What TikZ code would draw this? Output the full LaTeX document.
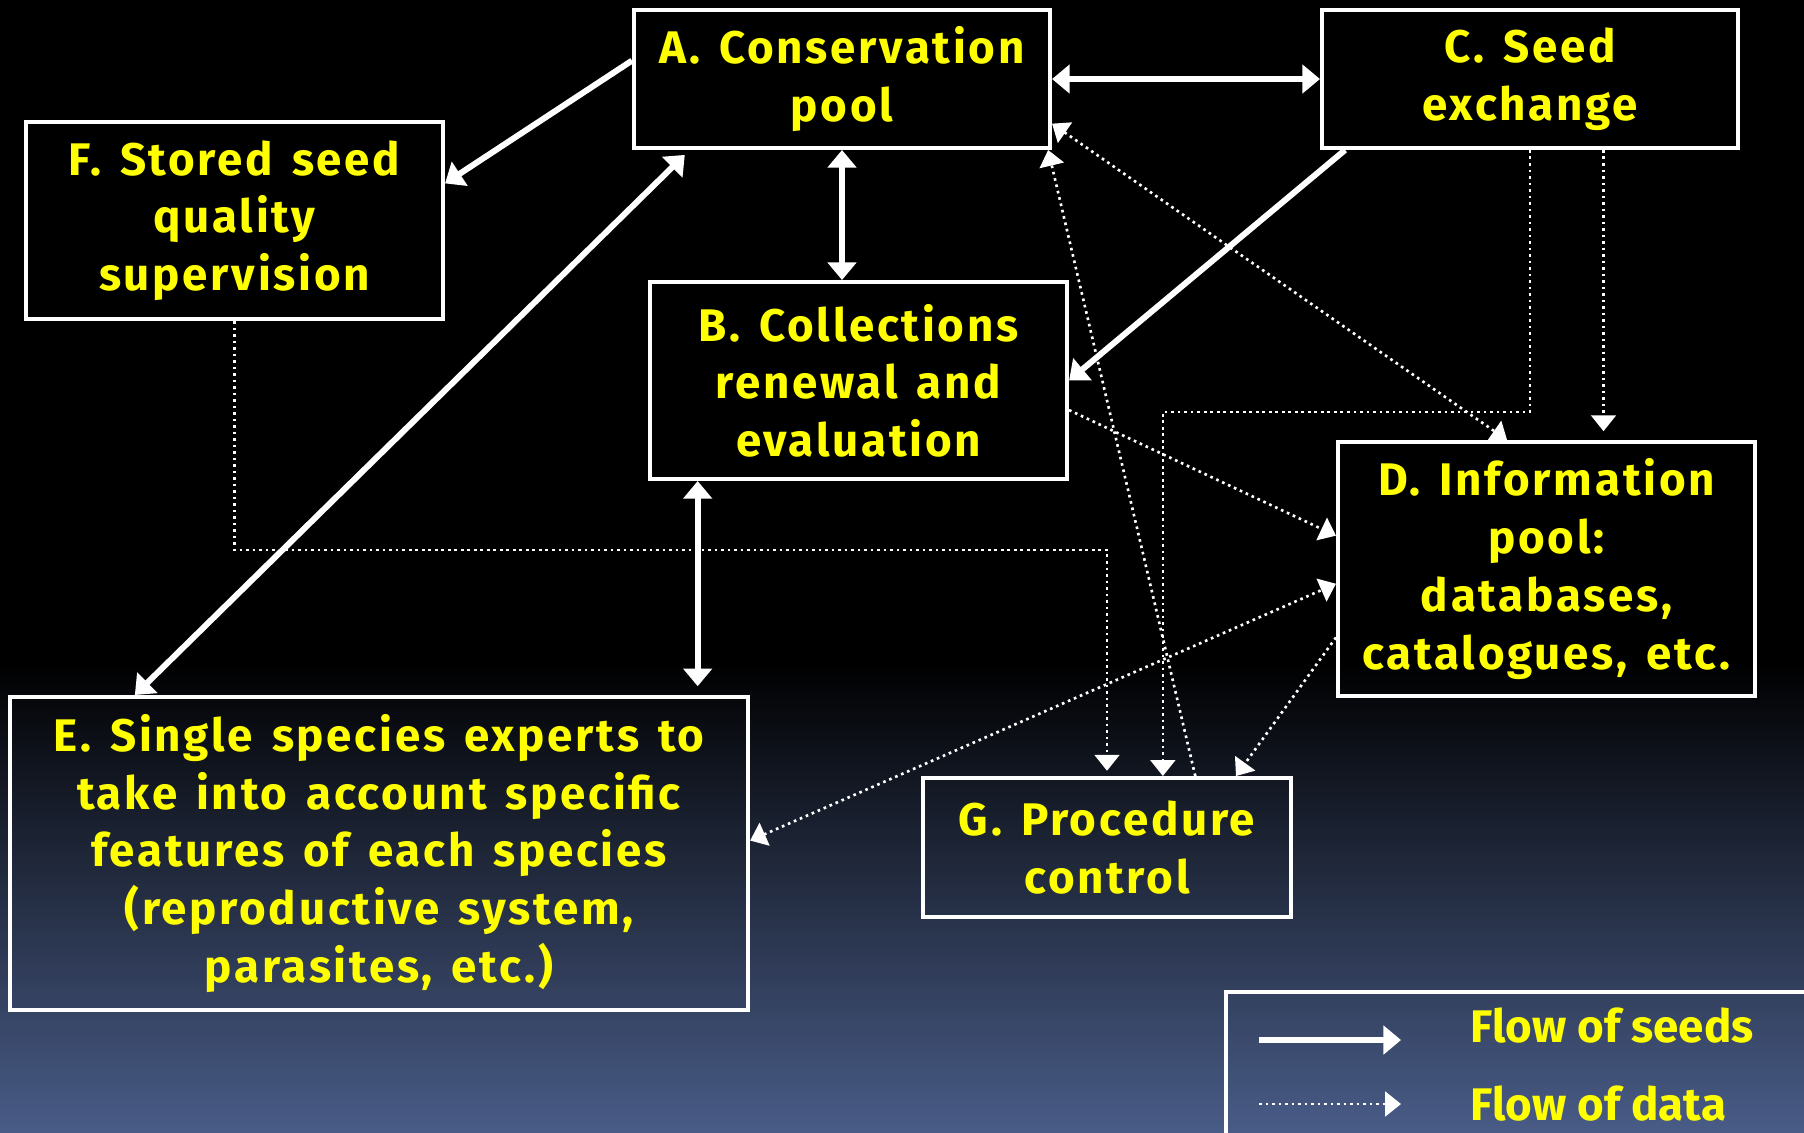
\documentclass[tikz,border=0pt]{standalone}
\usepackage{fontspec}
\setmainfont{Fira Sans}
\newfontfamily\boxfont{Fira Sans}[LetterSpace=6, WordSpace=1.4]
\usetikzlibrary{arrows.meta}
\definecolor{slideblue}{RGB}{73,92,135}
\definecolor{labelyellow}{RGB}{255,255,0}

\begin{document}
\begin{tikzpicture}[x=0.01cm, y=-0.01cm,
		box/.style={draw=white, line width=1.1pt, text=labelyellow, align=center, inner sep=0pt,
			font=\boxfont\bfseries\fontsize{13}{16.4}\selectfont},
		seed/.style={draw=white, line width=1.7pt, >={Triangle[width=8pt, length=5pt]}},
		data/.style={draw=white, line width=0.75pt, dash pattern=on 0.75pt off 1.1pt,
			>={Triangle[width=7pt, length=4.5pt]}}]
		\useasboundingbox (0, 0) rectangle (1804, 1132);
		\fill[black] (0, 0) rectangle (1804, 1132);
		\shade[top color=black, bottom color=slideblue] (0, 660) rectangle (1804, 1132);
		% boxes
		\node[box, minimum width=4.16cm, minimum height=1.38cm] (A) at (842, 79) {A. Conservation\\pool};
		\node[box, minimum width=4.16cm, minimum height=1.38cm] (C) at (1530, 79) {C. Seed\\exchange};
		\node[box, minimum width=4.17cm, minimum height=1.97cm] (F) at (234.5, 220.5) {F. Stored seed\\quality\\supervision};
		\node[box, minimum width=4.17cm, minimum height=1.97cm] (B) at (858.5, 380.5) {B. Collections\\renewal and\\evaluation};
		\node[box, minimum width=4.17cm, minimum height=2.54cm] (D) at (1546.5, 569) {D. Information\\pool:\\databases,\\catalogues, etc.};
		\node[box, minimum width=7.38cm, minimum height=3.13cm] (E) at (379, 853.5) {E. Single species experts to\\take into account specific\\features of each species\\(reproductive system,\\parasites, etc.)};
		\node[box, minimum width=3.68cm, minimum height=1.39cm] (G) at (1107, 847.5) {G. Procedure\\control};
		% flow of seeds
		\draw[seed, ->] (A.175) -- (F.10);
		\draw[seed, <->, shorten >=2pt] (E.147) -- (A.205);
		\draw[seed, <->] (A.south) -- (A.south |- B.north);
		\draw[seed, <->] (A.east) -- (C.west);
		\draw[seed, ->] (C.201) -- (B.east);
		\draw[seed, <->, shorten >=2.5pt] (B.212) -- (B.212 |- E.north);
		% flow of data
		\draw[data, <->] (A.-12) -- (D.107);
		\draw[data, ->, shorten >=2.5pt] (C.-44) -- (C.-44 |- D.north);
		\draw[data, ->] (C.south) -- ++(0, 262) -| (G.52);
		\draw[data, ->, shorten >=1.5pt] (F.south) -- ++(0, 229) -| (G.north);
		\draw[data, ->] (B.-8) -- (D.171);
		\draw[data, <->] (E.2) -- (D.184);
		\draw[data, ->] (D.198) -- (G.29);
		\draw[data, ->] (G.39) -- (A.-19);
		% legend
		\draw[white, line width=1.1pt] (1226, 992) rectangle (1840, 1170);
		\coordinate (s0) at (1259, 1040);
		\coordinate (s1) at (1401, 1040);
		\coordinate (d0) at (1259, 1104);
		\coordinate (d1) at (1401, 1104);
		\draw[seed, ->] (s0) -- (s1);
		\draw[data, ->] (d0) -- (d1);
		\node[text=labelyellow, anchor=west, inner sep=0pt, font=\bfseries\fontsize{13}{16.4}\selectfont] (seedtext) at (1470, 1026) {Flow of seeds};
		\node[text=labelyellow, anchor=west, inner sep=0pt, font=\bfseries\fontsize{13}{16.4}\selectfont] (datatext) at (1470, 1104) {Flow of data};
	\end{tikzpicture}
\end{document}
